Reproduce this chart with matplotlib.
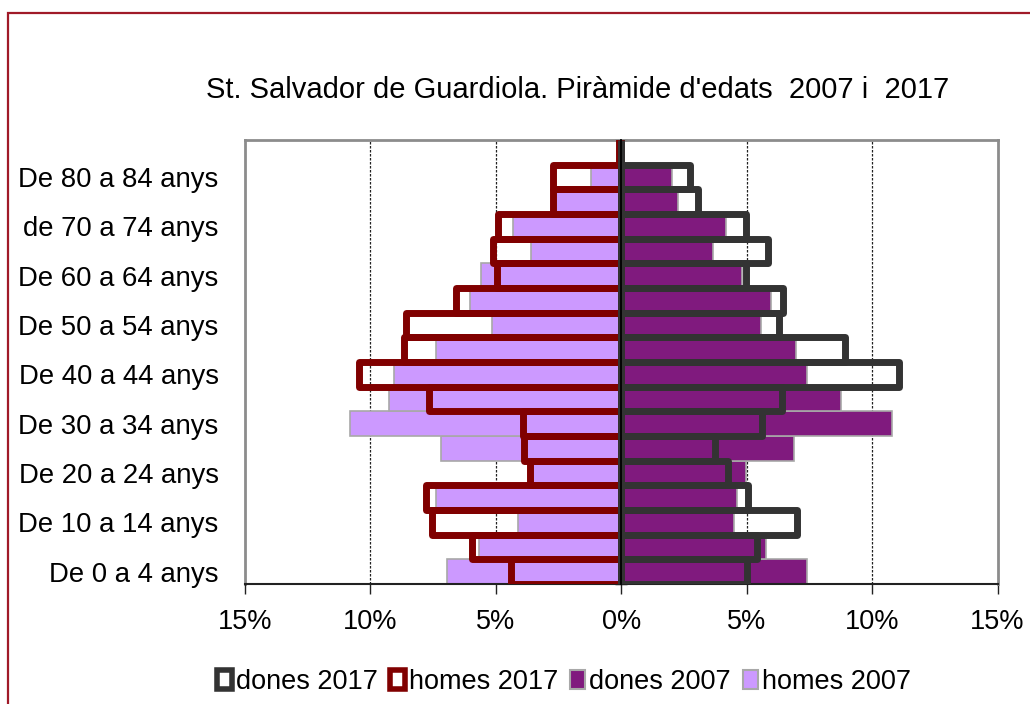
# coding: utf-8

import matplotlib
matplotlib.use('Agg')
import matplotlib.pyplot as plt
from matplotlib.patches import Patch, Rectangle
from matplotlib.ticker import FuncFormatter
import numpy as np

plt.rcParams['font.family'] = ['Liberation Sans', 'DejaVu Sans']

age_groups = ['De 0 a 4 anys', 'De 5 a 9 anys', 'De 10 a 14 anys', 'De 15 a 19 anys',
              'De 20 a 24 anys', 'De 25 a 29 anys', 'De 30 a 34 anys', 'De 35 a 39 anys',
              'De 40 a 44 anys', 'De 45 a 49 anys', 'De 50 a 54 anys', 'De 55 a 59 anys',
              'De 60 a 64 anys', 'De 65 a 69 anys', 'de 70 a 74 anys', 'De 75 a 79 anys',
              'De 80 a 84 anys', 'De 85 anys i més']

# percentages of total population, bottom to top
homes_2017 = [4.40, 5.95, 7.54, 7.78, 3.63, 3.86, 3.90, 7.65, 10.44, 8.65,
              8.58, 6.59, 4.95, 5.10, 4.90, 2.71, 2.74, 0.10]
dones_2017 = [5.00, 5.40, 6.99, 5.06, 4.24, 3.73, 5.63, 6.39, 11.08, 8.92,
              6.27, 6.43, 4.97, 5.86, 4.99, 3.07, 2.74, 0.0]
homes_2007 = [6.96, 5.68, 4.10, 7.38, 3.50, 7.18, 10.80, 9.27, 9.07, 7.38,
              5.15, 6.03, 5.59, 3.60, 4.33, 2.60, 1.21, 0.0]
dones_2007 = [7.42, 5.76, 4.50, 4.61, 4.99, 6.89, 10.81, 8.78, 7.42, 6.96,
              5.59, 5.99, 4.83, 3.67, 4.17, 2.27, 2.02, 0.0]

x_ticks = [-15, -10, -5, 0, 5, 10, 15]
title = "St. Salvador de Guardiola. Piràmide d'edats  2007 i  2017"

col_d17 = '#333333'
col_h17 = '#800000'
col_d07 = '#801a7e'
col_h07 = '#cc99ff'
col_edge07 = '#a8a8a8'

fig = plt.figure(figsize=(10.30, 7.04), dpi=100)

# dark red frame round the chart
fig.patches.append(Rectangle((8 / 1030, -0.1), 1.2, 1 - 13 / 704 + 0.1,
                             transform=fig.transFigure, fill=False,
                             edgecolor='#a01a28', linewidth=1.6))

ax = fig.add_axes([245 / 1030, 120 / 704, 752.5 / 1030, 444 / 704])

y = np.arange(len(age_groups))
h17 = -np.array(homes_2017)
d17 = np.array(dones_2017)
h07 = -np.array(homes_2007)
d07 = np.array(dones_2007)

for xg in [-10, -5, 5, 10]:
    ax.axvline(xg, color='#222222', linewidth=0.9, linestyle=(0, (2, 1.2)), zorder=1)

ax.barh(y, h07, height=1.0, color=col_h07, edgecolor=col_edge07, linewidth=1.2, zorder=2)
ax.barh(y, d07, height=1.0, color=col_d07, edgecolor=col_edge07, linewidth=1.2, zorder=2)
ax.barh(y, h17, height=1.0, fill=False, edgecolor=col_h17, linewidth=5,
        joinstyle='round', zorder=3)
ax.barh(y, d17, height=1.0, fill=False, edgecolor=col_d17, linewidth=5,
        joinstyle='round', zorder=4)

ax.set_xlim(-15, 15)
ax.set_ylim(-0.5, len(age_groups) - 0.5)

ax.set_xticks(x_ticks)
ax.xaxis.set_major_formatter(FuncFormatter(lambda v, p: '{0:d}%'.format(int(abs(v)))))
ax.tick_params(axis='x', direction='out', length=7, width=1, pad=11,
               labelsize=19.5, color='#222222')

# category axis sits at 0, with crossing tick marks between the groups
ax.spines['left'].set_position(('data', 0))
ax.spines['left'].set_color('black')
ax.spines['left'].set_linewidth(1.3)
ax.spines['left'].set_zorder(5)
ax.set_yticks(np.arange(len(age_groups) + 1) - 0.5)
ax.tick_params(axis='y', direction='inout', length=8, width=1, labelleft=False)

for side in ['top', 'right']:
    ax.spines[side].set_color('#8c8c8c')
    ax.spines[side].set_linewidth(2)
ax.spines['bottom'].set_color('#222222')
ax.spines['bottom'].set_linewidth(1.5)

lab = ax.secondary_yaxis('left')
lab.set_yticks(y[::2])
lab.set_yticklabels(age_groups[::2])
lab.tick_params(length=0, pad=19, labelsize=19.8)
lab.spines['left'].set_color('#8c8c8c')
lab.spines['left'].set_linewidth(2)

fig.text(578 / 1030, 1 - 90 / 704, title, ha='center', va='center', fontsize=21)

handles = [
    Patch(facecolor='white', edgecolor=col_d17, linewidth=4, joinstyle='round'),
    Patch(facecolor='white', edgecolor=col_h17, linewidth=4, joinstyle='round'),
    Patch(facecolor=col_d07, edgecolor=col_edge07, linewidth=1.5),
    Patch(facecolor=col_h07, edgecolor=col_edge07, linewidth=1.5),
]
labels = ['dones 2017', 'homes 2017', 'dones 2007', 'homes 2007']
fig.legend(handles, labels, loc='center', bbox_to_anchor=(564 / 1030, 1 - 682 / 704),
           ncol=4, frameon=False, fontsize=19.5, handlelength=0.55, handleheight=0.75,
           handletextpad=0.15, columnspacing=0.45, borderpad=0)

fig.savefig('out.png', dpi=100)
